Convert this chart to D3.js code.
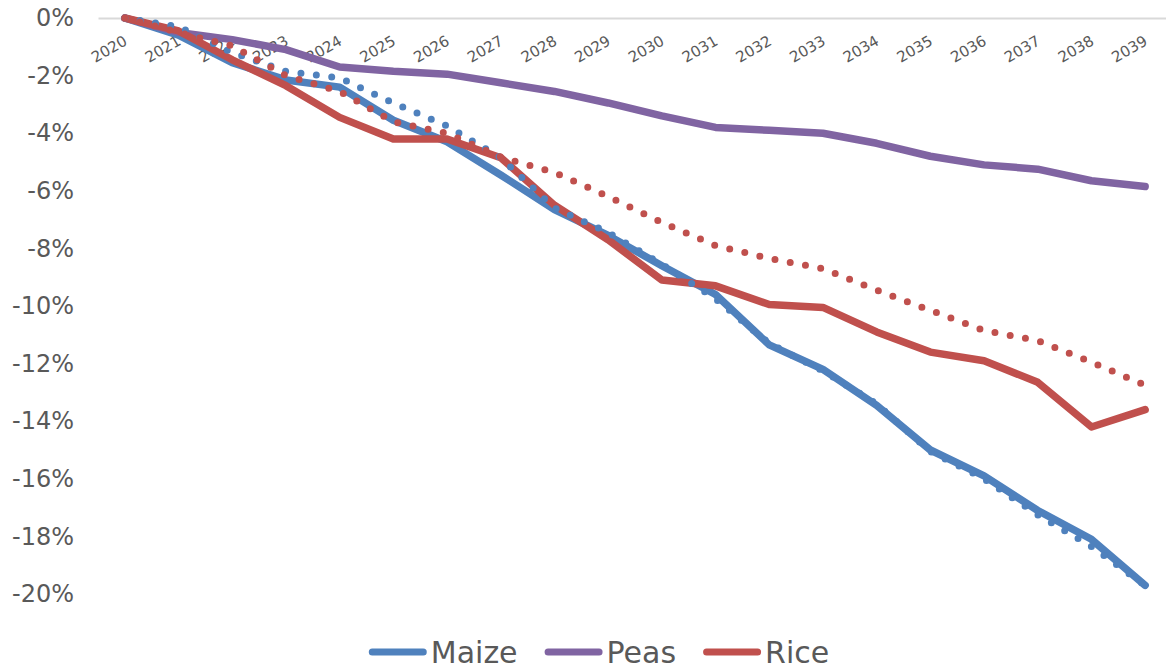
<!DOCTYPE html>
<html>
<head>
<meta charset="utf-8">
<script src="https://cdn.jsdelivr.net/npm/d3@7"></script>
<style>
  body { margin: 0; background: #fff; }
  svg { display: block; font-family: "DejaVu Sans", Verdana, sans-serif; }
</style>
</head>
<body>
<div id="chart"></div>
<script>
// chart data (percent change vs 2020)
const years = ["2020","2021","2022","2023","2024","2025","2026","2027","2028","2029",
               "2030","2031","2032","2033","2034","2035","2036","2037","2038","2039"];
const maize = [0, -0.6, -1.55, -2.15, -2.4, -3.55, -4.3, -5.45, -6.65, -7.55,
               -8.6, -9.6, -11.35, -12.2, -13.45, -15.0, -15.9, -17.1, -18.1, -19.7];
const peas  = [0, -0.5, -0.75, -1.1, -1.7, -1.85, -1.95, -2.25, -2.55, -2.95,
               -3.4, -3.8, -3.9, -4.0, -4.35, -4.8, -5.1, -5.25, -5.65, -5.85];
const rice  = [0, -0.45, -1.45, -2.35, -3.45, -4.2, -4.2, -4.85, -6.5, -7.7,
               -9.1, -9.3, -9.95, -10.05, -10.9, -11.6, -11.9, -12.65, -14.2, -13.6];
// dotted companion series (not in legend)
const maizeDot = [0, -0.3, -1.2, -1.85, -2.08, -2.95, -3.75, -4.85, -6.6, -7.45,
                  -8.55, -9.75, -11.3, -12.25, -13.4, -15.05, -16.0, -17.25, -18.35, -19.7];
const riceDot  = [0, -0.5, -0.97, -2.0, -2.55, -3.6, -4.0, -4.83, -5.36, -6.2,
                  -7.1, -7.9, -8.35, -8.7, -9.45, -10.15, -10.85, -11.2, -11.95, -12.75];
const yTicks = [0, -2, -4, -6, -8, -10, -12, -14, -16, -18, -20];

const width = 1166, height = 666;
const plot = {left: 98, right: 1172, top: 18, bottom: 594};
const textColor = "#595959";

let svg = d3.select("#chart").append("svg")
    .attr("width", width)
    .attr("height", height);

let x = d3.scalePoint()
    .domain(years)
    .range([plot.left, plot.right])
    .padding(0.5);

let y = d3.scaleLinear()
    .domain([0, -20])
    .range([plot.top, plot.bottom]);

// y axis labels
let yAxis = svg.append("g")
    .attr("transform", `translate(${plot.left}, 0)`)
    .call(d3.axisLeft(y).tickValues(yTicks).tickSize(0).tickPadding(24)
        .tickFormat(d => d + "%"));
yAxis.select(".domain").remove();
yAxis.selectAll("text")
    .style("font-size", "24px")
    .style("font-family", "DejaVu Sans, Verdana, sans-serif")
    .attr("fill", textColor);

// category axis sits at 0%
let xAxis = svg.append("g")
    .attr("transform", `translate(0, ${y(0)})`)
    .call(d3.axisBottom(x).tickSize(0));
xAxis.select(".domain")
    .attr("stroke", "#d9d9d9")
    .attr("stroke-width", 2);
xAxis.selectAll("text")
    .style("font-size", "15px")
    .style("font-family", "DejaVu Sans, Verdana, sans-serif")
    .attr("fill", textColor)
    .attr("text-anchor", "end")
    .attr("y", 0)
    .attr("dy", 0)
    .attr("transform", "translate(3, 26) rotate(-30)");

let line = d3.line()
    .x((d, i) => x(years[i]))
    .y(d => y(d));

const series = [
    {name: "Maize", values: maize, color: "#4f81bd"},
    {name: "Peas",  values: peas,  color: "#8064a2"},
    {name: "Rice",  values: rice,  color: "#c0504d"}
];
const dotted = [
    {values: maizeDot, color: "#4f81bd"},
    {values: riceDot,  color: "#c0504d"}
];

svg.append("g").selectAll("path")
    .data(series)
    .enter()
    .append("path")
    .attr("fill", "none")
    .attr("stroke", d => d.color)
    .attr("stroke-width", 7.5)
    .attr("stroke-linejoin", "round")
    .attr("stroke-linecap", "round")
    .attr("d", d => line(d.values));

svg.append("g").selectAll("path")
    .data(dotted)
    .enter()
    .append("path")
    .attr("fill", "none")
    .attr("stroke", d => d.color)
    .attr("stroke-width", 7)
    .attr("stroke-linecap", "round")
    .attr("stroke-dasharray", "0 15.5")
    .attr("d", d => line(d.values));

// legend
let legend = svg.append("g");
let lx = 0;
series.forEach(function(s, i) {
    let g = legend.append("g").attr("transform", `translate(${lx}, 0)`);
    g.append("line")
        .attr("x1", 3.5).attr("x2", 54.5)
        .attr("y1", 0).attr("y2", 0)
        .attr("stroke", s.color)
        .attr("stroke-width", 7)
        .attr("stroke-linecap", "round");
    let t = g.append("text")
        .attr("x", 62)
        .attr("y", 11)
        .style("font-size", "30px")
        .attr("fill", textColor)
        .text(s.name);
    lx += 62 + t.node().getComputedTextLength() + 27;
});
lx -= 27;
legend.attr("transform", `translate(${599 - lx / 2}, 652)`);
</script>
</body>
</html>
